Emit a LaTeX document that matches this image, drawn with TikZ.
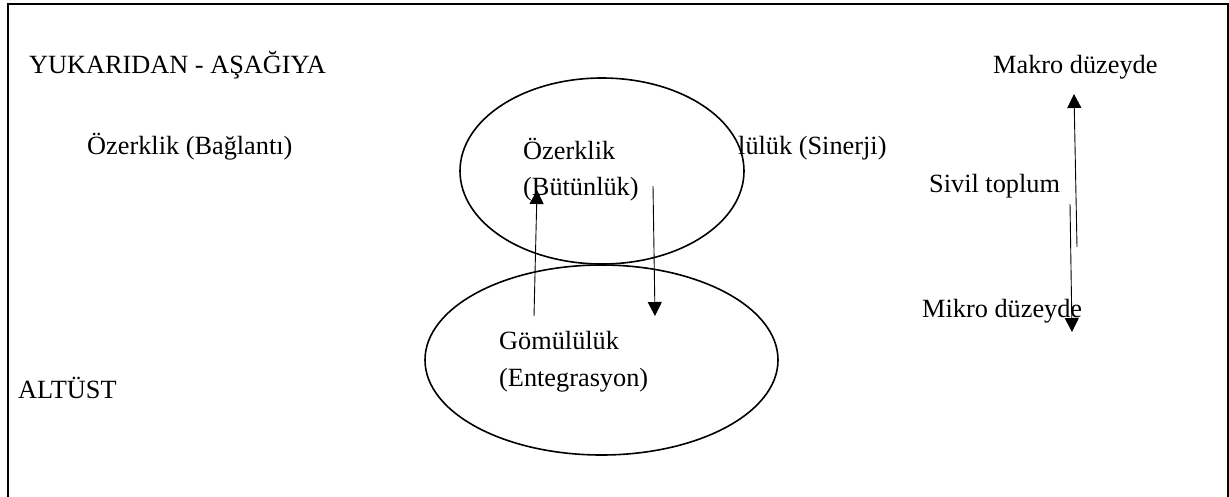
\documentclass[tikz,border=0pt]{standalone}
\usepackage{fontspec}
\setmainfont{Liberation Serif}
\usetikzlibrary{shapes.geometric,arrows.meta}
\begin{document}
\begin{tikzpicture}[x=1pt,y=-1pt,
  lbl/.style={anchor=base west,inner sep=0pt,font=\fontsize{26.3}{31.5}\selectfont},
  oval/.style={draw,ellipse,line width=1.6pt,inner sep=0pt},
  arr/.style={line width=0.9pt,-{Triangle[width=14pt,length=14pt]}}]
\useasboundingbox (0,0) rectangle (1229,496);
% frame (bottom edge cut off)
\coordinate (fbl) at (8,497);
\coordinate (ftl) at (8,4);
\coordinate (ftr) at (1228,4);
\coordinate (fbr) at (1228,497);
\draw[line width=2pt] (fbl) -- (ftl) -- (ftr) -- (fbr);
% ellipses
\node[oval,minimum width=353pt,minimum height=190pt] (low) at (601.5,360) {};
\node[oval,minimum width=284pt,minimum height=186pt] (up) at (602,171) {};
% texts
\node[lbl] (t1) at (29,73) {YUKARIDAN - AŞAĞIYA};
\node[lbl] (t2) at (87,154) {Özerklik (Bağlantı)};
\node[lbl] (t3) at (738,154) {lülük (Sinerji)};
\node[lbl] (t4) at (523,159) {Özerklik};
\node[lbl] (t5) at (523,195) {(Bütünlük)};
\node[lbl] (t6) at (499,349) {Gömülülük};
\node[lbl] (t7) at (499,386) {(Entegrasyon)};
\node[lbl] (t8) at (18,398) {ALTÜST};
\node[lbl] (t9) at (993,73) {Makro düzeyde};
\node[lbl] (t10) at (929,192) {Sivil toplum};
\node[lbl] (t11) at (922,317) {Mikro düzeyde};
% arrow endpoints
\coordinate (a1s) at (534,316);
\coordinate (a1e) at (537,190);
\coordinate (a2s) at (653,186);
\coordinate (a2e) at (655,316);
\coordinate (a3s) at (1077,247);
\coordinate (a3e) at (1074,94);
\coordinate (a4s) at (1070,204);
\coordinate (a4e) at (1072,332);
\draw[arr] (a1s) -- (a1e);
\draw[arr] (a2s) -- (a2e);
\draw[arr] (a3s) -- (a3e);
\draw[arr] (a4s) -- (a4e);
\end{tikzpicture}
\end{document}
